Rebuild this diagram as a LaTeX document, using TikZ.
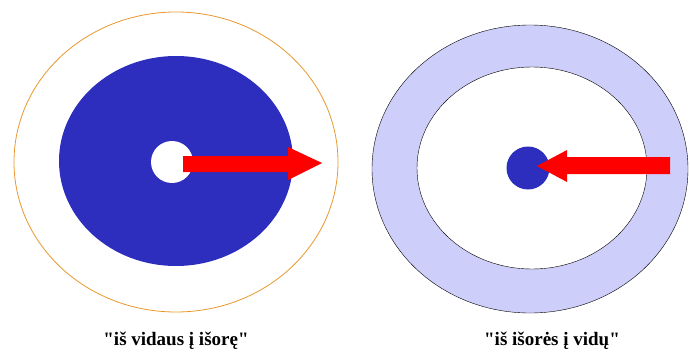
\documentclass[tikz,border=0pt]{standalone}
\usepackage{fontspec}
\setmainfont{Liberation Serif}
\definecolor{discblue}{RGB}{46,46,190}
\definecolor{ringlilac}{RGB}{206,206,250}
\definecolor{rimorange}{RGB}{232,152,44}

\begin{document}
\begin{tikzpicture}[x=1pt,y=-1pt]
        \useasboundingbox (0,0) rectangle (690,353);
        % Left picture: from the inside out.
            \draw[rimorange, thick] (176,162) ellipse (162 and 150);
            \fill[discblue] (176,161) ellipse (117 and 105);
            \fill[white] (172,162) circle (21);
            \fill[red] (183,156) -- (288,156) -- (288,147) -- (322,163) -- (288,180) -- (288,172) -- (183,172) -- cycle;
        % Right picture: from the outside in.
            \draw[black, thin, fill=ringlilac] (530,169) ellipse (158 and 144);
            \draw[black, thin, fill=white] (532,168) ellipse (115 and 101);
            \fill[discblue] (528,168) circle (21.5);
            \fill[red] (670,157) -- (567,157) -- (567,150) -- (537,166) -- (567,182) -- (567,174) -- (670,174) -- cycle;
        % Below nodes are the labels.
            \node[font=\fontsize{19}{22}\selectfont\bfseries] (captionL) at (176,341) {\textquotedbl iš vidaus į išorę\textquotedbl};
            \node[font=\fontsize{19}{22}\selectfont\bfseries] (captionR) at (552,341) {\textquotedbl iš išorės į vidų\textquotedbl};
    \end{tikzpicture}
\end{document}
